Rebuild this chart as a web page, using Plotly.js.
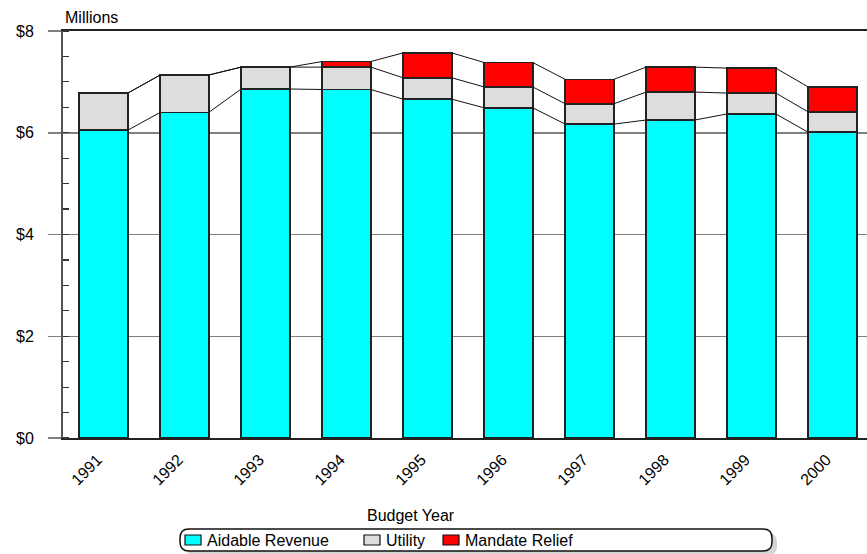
<!DOCTYPE html>
<html>
<head>
<meta charset="utf-8">
<script src="https://cdn.plot.ly/plotly-3.0.1.min.js"></script>
<style>
  html, body { margin: 0; padding: 0; background: #ffffff; }
  #chart { width: 867px; height: 554px; }
</style>
</head>
<body>
<div id="chart"></div>
<script>
// Budget years and revenue components (millions of dollars)
const years = ['1991', '1992', '1993', '1994', '1995', '1996', '1997', '1998', '1999', '2000'];
const aidableRevenue = [6.05, 6.40, 6.86, 6.85, 6.66, 6.49, 6.17, 6.25, 6.37, 6.01];
const utility        = [0.73, 0.735, 0.43, 0.44, 0.42, 0.41, 0.40, 0.55, 0.41, 0.40];
const mandateRelief  = [0.00, 0.00, 0.00, 0.11, 0.49, 0.48, 0.48, 0.49, 0.49, 0.49];
const seriesNames = ['Aidable Revenue', 'Utility', 'Mandate Relief'];
const seriesColors = ['#00FFFF', '#DDDDDD', '#FF0000'];
const yTickVals = [0, 2, 4, 6, 8];
const yTickText = ['$0', '$2', '$4', '$6', '$8'];

const W = 867, H = 554;
const M = { l: 63, r: 0, t: 31, b: 116 };
const plotW = W - M.l - M.r, plotH = H - M.t - M.b;
const px = v => (v - M.l) / plotW;
const py = v => (H - M.b - v) / plotH;

const BAR_W = 0.6;
const xIdx = years.map((_, i) => i);
const seriesVals = [aidableRevenue, utility, mandateRelief];

const traces = [];
seriesVals.forEach((vals, k) => {
  traces.push({
    type: 'bar', x: xIdx, y: vals, name: seriesNames[k], width: BAR_W,
    marker: { color: seriesColors[k], line: { color: '#222222', width: 1.6 } },
    hoverinfo: 'skip', showlegend: false
  });
});

// Series lines joining the top of each stacked segment between neighbouring bars
const cum = [];
let running = years.map(() => 0);
seriesVals.forEach(vals => {
  running = running.map((r, i) => r + vals[i]);
  cum.push(running.slice());
});
cum.forEach(level => {
  const lx = [], ly = [];
  for (let i = 0; i < years.length - 1; i++) {
    lx.push(i + BAR_W / 2, i + 1 - BAR_W / 2, null);
    ly.push(level[i], level[i + 1], null);
  }
  traces.push({
    type: 'scatter', mode: 'lines', x: lx, y: ly,
    line: { color: '#111111', width: 1 }, hoverinfo: 'skip', showlegend: false
  });
});

const font = { family: 'Liberation Sans, Arial, sans-serif', size: 16, color: '#000000' };

// Hand-built rounded legend with drop shadow
function roundedRect(x0, y0, x1, y1, r) {
  const X = v => px(v), Y = v => py(v);
  return `M${X(x0 + r)},${Y(y0)} L${X(x1 - r)},${Y(y0)} Q${X(x1)},${Y(y0)} ${X(x1)},${Y(y0 + r)} ` +
         `L${X(x1)},${Y(y1 - r)} Q${X(x1)},${Y(y1)} ${X(x1 - r)},${Y(y1)} ` +
         `L${X(x0 + r)},${Y(y1)} Q${X(x0)},${Y(y1)} ${X(x0)},${Y(y1 - r)} ` +
         `L${X(x0)},${Y(y0 + r)} Q${X(x0)},${Y(y0)} ${X(x0 + r)},${Y(y0)} Z`;
}
const legBox = { x0: 180, y0: 529, x1: 772, y1: 551 };
const swatchX = [185, 364, 443];
const labelX = [205, 384, 463];

const shapes = [
  { type: 'path', xref: 'paper', yref: 'paper', layer: 'above',
    path: roundedRect(legBox.x0 + 5, legBox.y0 + 4, legBox.x1 + 5, legBox.y1 + 4, 9),
    fillcolor: '#D4D4D4', line: { width: 0 } },
  { type: 'path', xref: 'paper', yref: 'paper', layer: 'above',
    path: roundedRect(legBox.x0, legBox.y0, legBox.x1, legBox.y1, 9),
    fillcolor: '#FFFFFF', line: { color: '#111111', width: 1.5 } }
];
const annotations = [
  { xref: 'paper', yref: 'paper', x: px(63), y: py(17), xanchor: 'left', yanchor: 'middle',
    text: 'Millions', showarrow: false, font: font },
  { xref: 'paper', yref: 'paper', x: px(411), y: py(515), xanchor: 'center', yanchor: 'middle',
    text: 'Budget Year', showarrow: false, font: font }
];
seriesNames.forEach((name, k) => {
  shapes.push({ type: 'rect', xref: 'paper', yref: 'paper', layer: 'above',
    x0: px(swatchX[k]), x1: px(swatchX[k] + 16), y0: py(535), y1: py(545),
    fillcolor: seriesColors[k], line: { color: '#111111', width: 1.2 } });
  annotations.push({ xref: 'paper', yref: 'paper', x: px(labelX[k]), y: py(540.5),
    xanchor: 'left', yanchor: 'middle', text: name, showarrow: false, font: font });
});

const layout = {
  width: W, height: H, margin: M,
  paper_bgcolor: '#ffffff', plot_bgcolor: '#ffffff',
  barmode: 'stack', bargap: 0.4, showlegend: false,
  font: font,
  xaxis: {
    type: 'linear', range: [-0.5, -0.5 + plotW / 81],
    tickmode: 'array', tickvals: xIdx, ticktext: years, tickangle: -45,
    ticks: '', showgrid: false, zeroline: false,
    showline: true, linecolor: '#222222', linewidth: 2.2, mirror: true,
    tickfont: font, ticklabelstandoff: 4, ticklabelshift: -6, fixedrange: true
  },
  yaxis: {
    range: [0, 8], tickmode: 'array', tickvals: yTickVals, ticktext: yTickText,
    ticks: 'outside', ticklen: 13, tickwidth: 1.5, tickcolor: '#808080',
    ticklabelstandoff: 11,
    showgrid: true, gridcolor: '#808080', gridwidth: 1.5,
    zeroline: false, showline: true, linecolor: '#555555', linewidth: 2,
    minor: { dtick: 0.5, ticks: 'inside', ticklen: 6, tickcolor: '#333333', tickwidth: 1.2, showgrid: false },
    tickfont: font, fixedrange: true
  },
  shapes: shapes,
  annotations: annotations
};

Plotly.newPlot('chart', traces, layout, { staticPlot: true, displayModeBar: false });
</script>
</body>
</html>
